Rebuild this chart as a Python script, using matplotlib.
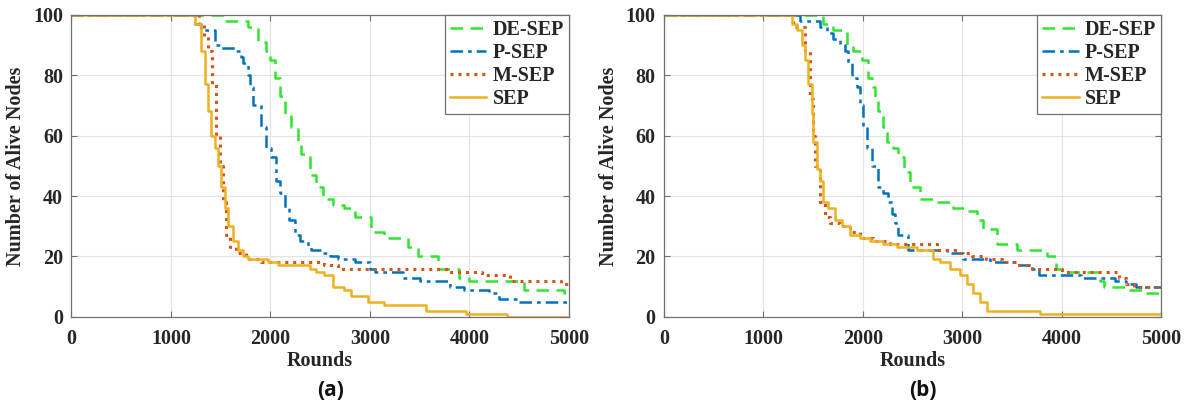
#!/usr/bin/env python3

import matplotlib
matplotlib.use("Agg")
import matplotlib.pyplot as plt

# ---- panel (a): change points (round, alive nodes), drawn as post-steps
a_desep_r = [0, 1540, 1770, 1874, 1958, 1991, 2041, 2092, 2142, 2209, 2276, 2309, 2393, 2460, 2527,
             2627, 2744, 2845, 3012, 3146, 3380, 3480, 3681, 3900, 4000, 4550, 4950, 5000]
a_desep_n = [100, 98, 96, 91, 88, 85, 79, 73, 67, 63, 58, 54, 47, 43, 39,
             37, 36, 33, 28, 26, 23, 20, 16, 13, 12, 9, 8, 8]

a_psep_r = [0, 1238, 1305, 1440, 1506, 1640, 1700, 1723, 1774, 1790, 1824, 1900, 1958, 2008, 2058,
            2092, 2142, 2190, 2242, 2300, 2376, 2410, 2510, 2600, 2677, 2850, 3000, 3050, 3330, 3500,
            3800, 3950, 4200, 4300, 4500, 5000]
a_psep_n = [100, 97, 95, 90, 89, 88, 86, 84, 80, 76, 70, 63, 56, 53, 45,
            41, 36, 32, 27, 25, 23, 22, 21, 20, 19, 18, 16, 15, 13, 12,
            10, 9, 8, 6, 5, 5]

a_msep_r = [0, 1280, 1330, 1372, 1412, 1456, 1489, 1522, 1556, 1590, 1656, 1757, 1907, 2543, 2677,
            3785, 4127, 4412, 4925, 5000]
a_msep_n = [100, 97, 93, 88, 77, 60, 50, 38, 27, 23, 21, 19, 18, 17, 16,
            15, 14, 12, 11, 11]

a_sep_r = [0, 1238, 1305, 1338, 1372, 1405, 1439, 1472, 1506, 1539, 1573, 1623, 1673, 1723, 1774,
           1974, 2075, 2400, 2460, 2543, 2627, 2744, 2811, 2979, 3146, 3560, 3970, 4380, 5000]
a_sep_n = [100, 97, 88, 77, 68, 60, 56, 50, 43, 36, 30, 25, 22, 20, 19,
           18, 17, 16, 15, 14, 10, 9, 7, 5, 4, 2, 1, 0, 0]

# ---- panel (b)
b_desep_r = [0, 1603, 1703, 1837, 1904, 1988, 2055, 2090, 2122, 2156, 2206, 2240, 2307, 2357, 2410,
             2474, 2575, 2743, 2910, 3044, 3145, 3212, 3346, 3547, 3849, 3945, 4040, 4383, 4421, 4688,
             4840, 5000]
b_desep_n = [100, 97, 95, 90, 88, 85, 79, 76, 72, 68, 63, 58, 56, 53, 48,
             43, 39, 38, 36, 35, 32, 29, 24, 22, 20, 16, 15, 12, 10, 9,
             8, 8]

b_psep_r = [0, 1368, 1569, 1636, 1703, 1770, 1821, 1854, 1888, 1938, 1971, 2005, 2038, 2089, 2156,
            2206, 2256, 2290, 2323, 2357, 2458, 2843, 3011, 3279, 3550, 3700, 3773, 4192, 4535, 4650,
            4750, 5000]
b_psep_n = [100, 98, 96, 94, 92, 90, 88, 84, 79, 76, 70, 63, 56, 50, 43,
            41, 38, 34, 31, 27, 22, 21, 19, 18, 17, 16, 14, 13, 12, 11,
            10, 10]

b_msep_r = [0, 1301, 1418, 1469, 1495, 1519, 1569, 1620, 1670, 1770, 1871, 1971, 2106, 2273, 2743,
            2950, 3100, 3240, 3400, 3545, 3700, 4002, 4573, 4650, 4726, 5000]
b_msep_n = [100, 96, 88, 72, 60, 50, 38, 33, 31, 30, 28, 26, 25, 24, 22,
            21, 20, 19, 18, 17, 16, 15, 13, 11, 10, 10]

b_sep_r = [0, 1284, 1334, 1385, 1418, 1452, 1485, 1502, 1536, 1569, 1603, 1653, 1720, 1787, 1871,
           1971, 2072, 2206, 2340, 2541, 2709, 2776, 2877, 2977, 3044, 3111, 3178, 3246, 3782, 5000]
b_sep_n = [100, 97, 95, 90, 85, 77, 67, 58, 49, 45, 38, 36, 32, 30, 27,
           26, 25, 24, 23, 22, 19, 18, 16, 14, 11, 8, 5, 2, 1, 1]

labels = ["DE-SEP", "P-SEP", "M-SEP", "SEP"]
colors = ["#2ee62e", "#0072BD", "#D95319", "#EDB120"]
styles = [(0, (5, 3)), (0, (5, 2, 1.5, 2)), (0, (1, 1.6)), "-"]
widths = [1.8, 1.8, 2.2, 1.8]

SERIF = "Liberation Serif"
FS = 14.5


def draw_panel(ax, series, tag):
    for (r, n), lab, c, ls, lw in zip(series, labels, colors, styles, widths):
        ax.step(r, n, where="post", color=c, linestyle=ls, linewidth=lw, label=lab)
    ax.set_xlim(0, 5000)
    ax.set_ylim(0, 100)
    ax.set_xticks(range(0, 5001, 1000))
    ax.set_yticks(range(0, 101, 20))
    ax.grid(True, color="#e3e3e3", linewidth=0.8)
    ax.set_axisbelow(True)
    for s in ax.spines.values():
        s.set_color("#707070")
        s.set_linewidth(0.9)
    ax.tick_params(direction="in", length=4, width=0.8, colors="#707070",
                   top=True, right=True, labelcolor="#262626")
    ax.tick_params(axis="x", pad=9)
    ax.tick_params(axis="y", pad=6)
    for t in ax.get_xticklabels() + ax.get_yticklabels():
        t.set_fontfamily(SERIF)
        t.set_fontweight("bold")
        t.set_fontsize(FS)
    ax.set_xlabel("Rounds", fontfamily=SERIF, fontweight="bold", fontsize=FS,
                  color="#262626", labelpad=1)
    ax.set_ylabel("Number of Alive Nodes", fontfamily=SERIF, fontweight="bold",
                  fontsize=FS, color="#262626", labelpad=5)
    leg = ax.legend(loc="upper right", borderaxespad=0, fancybox=False,
                    prop={"family": SERIF, "weight": "bold", "size": FS},
                    handlelength=1.8, handletextpad=0.3, labelspacing=0.15,
                    borderpad=0.25, framealpha=1)
    leg.get_frame().set_edgecolor("#707070")
    leg.get_frame().set_linewidth(0.9)
    for t in leg.get_texts():
        t.set_color("#262626")
    x0 = ax.get_position().x0 + ax.get_position().width * 0.52
    ax.figure.text(x0, 0.053, tag, ha="center", va="center", fontfamily="Open Sans",
                   fontweight="bold", fontsize=15, color="#111111")


fig = plt.figure(figsize=(11.89, 4.12), dpi=100)
ax_a = fig.add_axes([0.0601, 0.231, 0.4184, 0.733])
ax_b = fig.add_axes([0.5585, 0.231, 0.4180, 0.733])

draw_panel(ax_a, [(a_desep_r, a_desep_n), (a_psep_r, a_psep_n),
                  (a_msep_r, a_msep_n), (a_sep_r, a_sep_n)], "(a)")
draw_panel(ax_b, [(b_desep_r, b_desep_n), (b_psep_r, b_psep_n),
                  (b_msep_r, b_msep_n), (b_sep_r, b_sep_n)], "(b)")

fig.savefig("out.png", dpi=100)
